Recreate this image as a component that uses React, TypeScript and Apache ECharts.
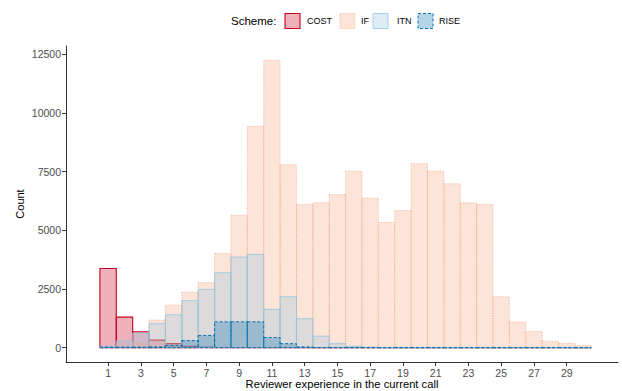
import React, { useEffect, useRef } from "react";
import * as echarts from "echarts";

const bins = [1, 2, 3, 4, 5, 6, 7, 8, 9, 10, 11, 12, 13, 14, 15, 16, 17, 18, 19, 20, 21, 22, 23, 24, 25, 26, 27, 28, 29, 30];
const costCounts = [3370, 1300, 680, 320, 170, 60, 20, 0, 0, 0, 0, 0, 0, 0, 0, 0, 0, 0, 0, 0, 0, 0, 0, 0, 0, 0, 0, 0, 0, 0];
const ifCounts = [30, 100, 200, 1175, 1810, 2370, 2770, 4010, 5640, 9430, 12240, 7790, 6100, 6170, 6520, 7520, 6370, 5330, 5840, 7840, 7520, 6980, 6170, 6100, 2170, 1090, 690, 280, 180, 100];
const itnCounts = [60, 280, 620, 1020, 1400, 2000, 2480, 3190, 3860, 3970, 1630, 2170, 1230, 490, 170, 60, 20, 0, 0, 0, 0, 0, 0, 0, 0, 0, 0, 0, 0, 0];
const riseCounts = [20, 20, 20, 30, 100, 300, 520, 1100, 1100, 1100, 430, 170, 30, 0, 0, 0, 0, 0, 0, 0, 0, 0, 0, 0, 0, 0, 0, 0, 0, 0];
const schemes = ["COST", "IF", "ITN", "RISE"];
const xTicks = [1, 3, 5, 7, 9, 11, 13, 15, 17, 19, 21, 23, 25, 27, 29];
const yTicks = [0, 2500, 5000, 7500, 10000, 12500];

const FONT = "'Liberation Sans', Arial, Helvetica, sans-serif";

const styles: Record<string, any> = {
  COST: { fill: "rgba(202,0,32,0.3)", stroke: "#ca0020", lineWidth: 1.1, lineDash: null },
  IF: { fill: "rgba(244,165,130,0.3)", stroke: "#f4a582", lineWidth: 0.8, lineDash: [1, 1.5] },
  ITN: { fill: "rgba(146,197,222,0.3)", stroke: "#92c5de", lineWidth: 0.8, lineDash: null },
  RISE: { fill: "rgba(5,113,176,0.3)", stroke: "#0571b0", lineWidth: 1, lineDash: [3, 2] },
};

const countsByScheme: Record<string, number[]> = {
  COST: costCounts,
  IF: ifCounts,
  ITN: itnCounts,
  RISE: riseCounts,
};

export default function App() {
  const ref = useRef<HTMLDivElement>(null);
  useEffect(() => {
    if (!ref.current) return;
    const chart = echarts.init(ref.current, undefined, { renderer: "svg" });

    const series = schemes.map((name) => {
      const st = styles[name];
      return {
        name,
        type: "custom",
        data: bins.map((b, i) => [b, countsByScheme[name][i]]),
        encode: { x: 0, y: 1 },
        renderItem: (params: any, api: any) => {
          const x = api.value(0);
          const y = api.value(1);
          const p0 = api.coord([x - 0.5, y]);
          const p1 = api.coord([x + 0.5, 0]);
          return {
            type: "rect",
            shape: { x: p0[0], y: p0[1], width: p1[0] - p0[0], height: p1[1] - p0[1] },
            style: {
              fill: st.fill,
              stroke: st.stroke,
              lineWidth: st.lineWidth,
              lineDash: st.lineDash || undefined,
            },
          };
        },
      };
    });

    const legendItems: any[] = [
      { type: "text", x: 231, y: 21, style: { text: "Scheme:", font: `11.5px ${FONT}`, fill: "#000", verticalAlign: "middle" } },
    ];
    const boxX = [285, 340, 373, 418];
    const labelX = [307, 361, 397, 439];
    schemes.forEach((name, i) => {
      const st = styles[name];
      legendItems.push({
        type: "rect",
        shape: { x: boxX[i], y: 13.5, width: 15, height: 15 },
        style: { fill: st.fill, stroke: st.stroke, lineWidth: st.lineWidth, lineDash: st.lineDash || undefined },
      });
      legendItems.push({
        type: "text",
        x: labelX[i],
        y: 21,
        style: { text: name, font: `9px ${FONT}`, fill: "#000", verticalAlign: "middle" },
      });
    });

    chart.setOption({
      animation: false,
      backgroundColor: "#fff",
      grid: { left: 66, right: 4, top: 46, bottom: 29, containLabel: false, outerBoundsMode: "none" },
      xAxis: {
        type: "value",
        min: -1.57,
        max: 32.13,
        name: "Reviewer experience in the current call",
        nameLocation: "middle",
        nameGap: 16,
        nameMoveOverlap: false,
        nameTextStyle: { color: "#000", fontSize: 11.2, fontFamily: FONT },
        axisLine: { show: true, onZero: false, lineStyle: { color: "#333", width: 1 } },
        axisTick: { show: true, length: 4, lineStyle: { color: "#333" }, customValues: xTicks },
        axisLabel: { color: "#4d4d4d", fontSize: 10.5, fontFamily: FONT, margin: 5, customValues: xTicks, formatter: (v: number) => String(v) },
        splitLine: { show: false },
      },
      yAxis: {
        type: "value",
        min: -612,
        max: 12852,
        name: "Count",
        nameLocation: "middle",
        nameRotate: 90,
        nameGap: 41,
        nameMoveOverlap: false,
        nameTextStyle: { color: "#000", fontSize: 11, fontFamily: FONT },
        axisLine: { show: true, onZero: false, lineStyle: { color: "#333", width: 1 } },
        axisTick: { show: true, length: 4, lineStyle: { color: "#333" }, customValues: yTicks },
        axisLabel: { color: "#4d4d4d", fontSize: 10.5, fontFamily: FONT, margin: 5, customValues: yTicks, formatter: (v: number) => String(v) },
        splitLine: { show: false },
      },
      graphic: legendItems,
      series,
    } as any);

    return () => chart.dispose();
  }, []);

  return <div ref={ref} style={{ width: 622, height: 391, position: "absolute", left: 0, top: 0 }} />;
}
